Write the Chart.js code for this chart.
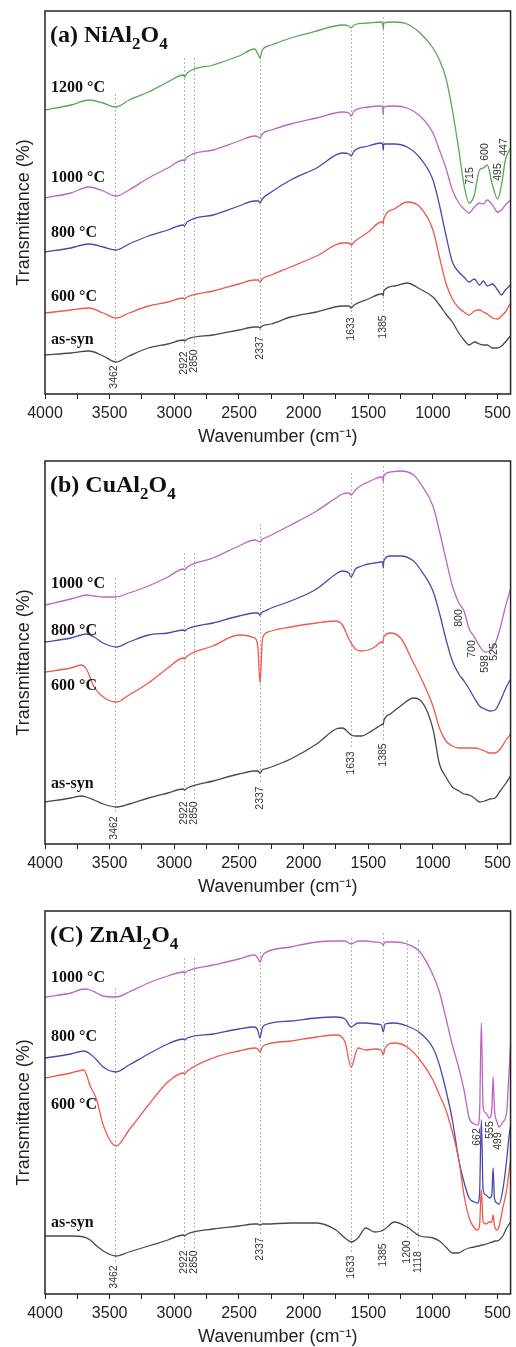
<!DOCTYPE html>
<html>
<head>
<meta charset="utf-8">
<title>FTIR spectra of NiAl2O4, CuAl2O4 and ZnAl2O4</title>
<script src="https://cdn.jsdelivr.net/npm/chart.js@4.4.1/dist/chart.umd.min.js"></script>
<style>
  html, body { margin: 0; padding: 0; background: #fff; overflow: hidden; }
  canvas { display: block; }
</style>
</head>
<body>
<canvas id="panelA" width="516" height="450"></canvas>
<canvas id="panelB" width="516" height="450"></canvas>
<canvas id="panelC" width="516" height="450"></canvas>
<script>
// x axis ticks (cm-1)
const xTicks = [4000, 3500, 3000, 2500, 2000, 1500, 1000, 500];
const xMinorTicks = [3750, 3250, 2750, 2250, 1750, 1250, 750];

// (a) NiAl2O4 - transmittance, arbitrary offset units
const niWavenumbers = [4000, 3800, 3660, 3550, 3450, 3350, 3200, 3050, 2930, 2922, 2900, 2700, 2500, 2380, 2350, 2337, 2320, 2250, 2100, 1900, 1700, 1650, 1633, 1610, 1500, 1400, 1388, 1385, 1380, 1300, 1200, 1100, 1000, 950, 900, 850, 800, 760, 720, 680, 640, 610, 580, 540, 500, 470, 440, 400];
const ni1200 = [71, 72.25, 73.5, 72.75, 71.75, 73.5, 75.5, 78, 79.75, 79.25, 80.25, 82.25, 84.5, 86.25, 84.75, 84, 86, 87.25, 89, 90.75, 92.25, 92, 91.5, 92.25, 92.75, 93, 92.5, 91.25, 92.75, 93, 92.5, 90.25, 86.5, 83.5, 79, 71, 61, 52.25, 47.75, 49.75, 56, 56.5, 57.25, 52.25, 48.75, 52.25, 58.5, 61.5];
const ni1000 = [49, 50.25, 51.75, 50.75, 49.5, 51, 54, 56.5, 58.5, 58.25, 59.25, 61, 63.25, 64.5, 64.25, 64, 65, 66, 67.5, 69, 70.5, 70.25, 69.5, 70.75, 71.75, 72, 71.5, 69.75, 71.75, 72, 71.5, 69.5, 65.25, 61, 56.5, 51, 47.75, 46.25, 45.25, 46.75, 47.75, 47.5, 48.5, 47.25, 45.5, 46, 47.25, 48.5];
const ni800 = [35.5, 36.5, 37.5, 36.75, 36, 37.5, 39.5, 41, 42.25, 42, 43, 44.75, 47, 48.25, 48.25, 47.75, 48.75, 50.5, 53.5, 56.5, 60.25, 60, 59.5, 60.75, 62, 62.75, 62.25, 61, 62.5, 62.5, 61.75, 59, 53.5, 47.25, 39.75, 33, 30.5, 29.25, 28, 28.75, 27.25, 28.25, 27, 27.5, 26, 24.75, 26, 27.25];
const ni600 = [20.25, 21, 21.5, 20.25, 19, 20.25, 22, 23, 24, 23.75, 24.25, 25.75, 27.5, 28.5, 28.5, 28, 28.75, 29.75, 31.75, 34.5, 37.75, 37.75, 37.25, 38, 40.5, 43, 43, 42.5, 43.75, 46.25, 48, 46.75, 41, 34.25, 27.75, 23.75, 21.5, 20.5, 19.75, 20.75, 21, 20.5, 20, 19, 18.75, 19.5, 20.5, 22.75];
const niAsSyn = [9.75, 10.25, 10.75, 9.5, 8, 9.5, 11.5, 12.5, 13.5, 13.25, 13.75, 14.75, 16, 16.75, 16.75, 16.5, 17, 17.5, 19.25, 20.5, 22, 22, 21.5, 22.25, 23.75, 25, 25, 24.5, 25.75, 27, 27.75, 26.25, 24.25, 22.25, 20, 18, 15.25, 13.5, 12.25, 13, 12.5, 12.25, 12.25, 11.5, 11.5, 12, 13, 14.5];
const niBands = [3462, 2922, 2850, 2337, 1633, 1385];
const niPeaks = [715, 600, 495, 447];

// (b) CuAl2O4
const cuWavenumbers = [4000, 3800, 3720, 3680, 3620, 3550, 3450, 3350, 3200, 3050, 2930, 2922, 2900, 2700, 2500, 2380, 2355, 2337, 2320, 2300, 2250, 2100, 1900, 1750, 1700, 1650, 1633, 1600, 1550, 1500, 1450, 1400, 1388, 1385, 1380, 1330, 1250, 1150, 1100, 1000, 950, 900, 850, 800, 760, 720, 680, 640, 600, 560, 520, 480, 440, 400];
const cu1000 = [59.75, 61.25, 62, 62.25, 62, 61.75, 61.75, 62.75, 64.5, 66.75, 68.75, 68.5, 69.25, 71.5, 74.5, 76, 75.75, 75.5, 76.25, 76.5, 77.25, 79.75, 83.25, 86.5, 87.5, 87.75, 87.25, 88.5, 89.75, 90.5, 91.25, 91.75, 91.75, 90.5, 92, 93, 93.25, 92.25, 90.25, 84.5, 78.25, 71.25, 64.5, 60.25, 58.25, 53.75, 51.75, 49.5, 48, 48.25, 50, 54, 59.25, 63.75];
const cu800 = [50.5, 51.5, 52.25, 52.5, 51.75, 50.25, 49.25, 50.5, 52.25, 52.75, 53.5, 53.25, 53.75, 55.25, 57, 57.75, 57.75, 57.25, 58, 58.25, 59, 60.75, 63.75, 67.5, 68.25, 67.75, 66.75, 68.75, 69.5, 70, 70.25, 70.5, 70.5, 69, 70.75, 72, 72, 70.75, 68.75, 63.25, 57.75, 51.25, 45.75, 42.5, 40.75, 38.75, 36.5, 34.5, 33.75, 33.25, 33.5, 35.75, 38.75, 41.25];
const cu600 = [43, 44, 44.75, 43.75, 39.25, 36.75, 35.5, 37.25, 40.25, 44, 46.5, 46.25, 47, 49.5, 52.25, 51.5, 49.5, 40.25, 50.75, 52.5, 53.25, 54.25, 55.25, 55.75, 54.75, 51.25, 50.25, 48.75, 48.25, 48.5, 49.25, 50.5, 50.25, 50.75, 51.75, 52.75, 51.5, 45.25, 42, 34.5, 29, 25.75, 24.5, 24, 24, 24, 24, 23.75, 23.25, 22.75, 22.75, 23.75, 25.75, 27.5];
const cuAsSyn = [10.5, 11.5, 12, 11.75, 11, 10, 9.25, 10, 11.5, 12.75, 13.75, 13.5, 14, 15.75, 17.5, 18.25, 18.25, 17.75, 18.5, 18.75, 19.25, 21.25, 25, 28.75, 29, 27.75, 27.25, 27, 27, 27.75, 28.75, 29.75, 30, 29.75, 30.75, 32.5, 34.5, 36.5, 36, 28.75, 20, 16.75, 14.25, 13.25, 12.5, 12.25, 11.5, 10.5, 10.75, 11.25, 11.5, 13.25, 15, 17];
const cuBands = [3462, 2922, 2850, 2337, 1633, 1385];
const cuPeaks = [800, 700, 598, 525];

// (C) ZnAl2O4
const znWavenumbers = [4000, 3800, 3700, 3650, 3600, 3550, 3450, 3350, 3200, 3050, 2930, 2922, 2900, 2700, 2500, 2380, 2355, 2337, 2320, 2300, 2100, 1900, 1750, 1680, 1633, 1580, 1520, 1450, 1400, 1385, 1370, 1300, 1200, 1100, 1000, 950, 900, 850, 800, 760, 720, 680, 655, 640, 626, 612, 590, 565, 545, 535, 525, 505, 488, 460, 430, 415, 400];
const zn1000 = [74.25, 75.25, 76.25, 76, 75.25, 74.5, 74.25, 75.5, 77.75, 79.5, 80.5, 80.25, 80.75, 82.25, 83.75, 84.75, 84, 83, 84.5, 85.25, 86.75, 88, 88.25, 88.25, 87.5, 88.25, 88.25, 88, 87.75, 87.25, 88, 88, 87.5, 85.5, 79.75, 75.5, 69, 62.25, 56.5, 51, 44, 42.5, 42.25, 44.75, 67.75, 46.5, 45.25, 44, 46, 54.25, 46.5, 43, 41.75, 43, 45.5, 53.5, 62.25];
const zn800 = [59, 60, 60.75, 60, 58.5, 56.75, 55.5, 57.25, 60, 62.5, 63.75, 63.5, 64, 65, 66.25, 66.75, 66, 64, 66.5, 67.25, 68.25, 69, 69.25, 68.75, 66.75, 67.75, 67.75, 67.5, 67.25, 65.5, 67.5, 67.75, 67, 65.25, 61.5, 57.25, 51, 43.5, 33.5, 28, 24, 23, 22.75, 24.75, 43.5, 26, 24.75, 24, 24.75, 31.5, 24, 22.75, 22.5, 26, 33.5, 38.5, 42.25];
const zn600 = [54, 55.25, 56, 52, 48.5, 42.25, 37, 41, 47.25, 53, 55.25, 55, 55.75, 59, 60.75, 61.5, 61.25, 60.5, 61.75, 62.25, 63.25, 64.25, 64.75, 63, 56.75, 61.5, 61, 61.25, 61, 59.75, 61.5, 62.75, 61.75, 58.5, 53.5, 49.75, 46, 40.5, 33.5, 24.75, 19, 16.5, 16, 17, 26, 18, 17.5, 18, 18, 19.75, 17.25, 16, 17, 21.5, 26, 29.75, 33.5];
const znAsSyn = [14.5, 14.5, 14.25, 13.5, 12, 10.75, 9.5, 10.5, 12, 13.5, 14.75, 14.5, 15, 16.25, 17, 17.5, 17.5, 17.25, 17.5, 17.5, 17.75, 17.75, 16, 14, 13, 14, 16.5, 15.5, 15.75, 16, 16.25, 18, 16.75, 14.5, 14, 13.25, 11.75, 10.25, 10.25, 11, 11.5, 11.75, 12, 12, 12.25, 12.25, 12.5, 12.75, 13, 13, 13.25, 13.25, 13.5, 14.5, 16.5, 17.25, 18];
const znBands = [3462, 2922, 2850, 2337, 1633, 1385, 1200, 1118];
const znPeaks = [662, 555, 499];

// ---- styling / layout ----
const SANS = '"Liberation Sans", Arial, Helvetica, sans-serif';
const SERIF = '"Liberation Serif", "Times New Roman", Times, serif';
const COLORS = {
  '1200': '#56a856',
  '1000': '#c064c0',
  '800': '#4848b0',
  '600': '#f0584c',
  'as-syn': '#4a4a4a'
};

function toPoints(xs, ys) {
  return xs.map((w, i) => ({ x: w, y: ys[i] }));
}

function makeDataset(name, xs, ys) {
  return {
    label: name,
    data: toPoints(xs, ys),
    borderColor: COLORS[name],
    borderWidth: 1.3,
    pointRadius: 0,
    fill: false,
    cubicInterpolationMode: 'monotone'
  };
}

const ftirDecor = {
  id: 'ftirDecor',
  beforeDatasetsDraw(chart, args, opts) {
    const { ctx, scales: { x, y } } = chart;
    ctx.save();
    ctx.strokeStyle = '#b4b4b4';
    ctx.lineWidth = 1;
    ctx.setLineDash([2, 2]);
    opts.bands.forEach((w, i) => {
      const [top, lab] = opts.bandPos[i];
      const px = Math.round(x.getPixelForValue(w)) + 0.5;
      ctx.beginPath();
      ctx.moveTo(px, y.getPixelForValue(top));
      ctx.lineTo(px, y.getPixelForValue(lab) - 14);
      ctx.stroke();
    });
    ctx.restore();
  },
  afterDatasetsDraw(chart, args, opts) {
    const { ctx, chartArea: a, scales: { x, y } } = chart;
    ctx.save();
    // frame
    ctx.strokeStyle = '#222';
    ctx.lineWidth = 1.5;
    ctx.strokeRect(a.left, a.top, a.right - a.left, a.bottom - a.top);

    // rotated band labels
    ctx.fillStyle = '#333';
    ctx.font = '10.5px ' + SANS;
    ctx.textAlign = 'center';
    ctx.textBaseline = 'middle';
    const vtext = (w, v) => {
      ctx.save();
      ctx.translate(x.getPixelForValue(w), y.getPixelForValue(v));
      ctx.rotate(-Math.PI / 2);
      ctx.fillText(String(w), 0, 0);
      ctx.restore();
    };
    opts.bands.forEach((w, i) => vtext(w, opts.bandPos[i][1]));
    opts.peaks.forEach((w, i) => vtext(w, opts.peakPos[i]));

    // curve labels
    ctx.fillStyle = '#111';
    ctx.textAlign = 'left';
    ctx.font = 'bold 16px ' + SERIF;
    opts.curveLabels.forEach(([t, v]) => ctx.fillText(t, a.left + 6, y.getPixelForValue(v)));

    // panel title with subscripts
    let cx = a.left + 5;
    const base = a.top + 31;
    ctx.textBaseline = 'alphabetic';
    opts.title.forEach((part, i) => {
      const sub = i % 2 === 1;
      ctx.font = 'bold ' + (sub ? 17 : 24) + 'px ' + SERIF;
      ctx.fillText(part, cx, base + (sub ? 7 : 0));
      cx += ctx.measureText(part).width;
    });

    // y axis title
    ctx.fillStyle = '#222';
    ctx.font = '18px ' + SANS;
    ctx.textAlign = 'center';
    ctx.textBaseline = 'middle';
    ctx.translate(24, (a.top + a.bottom) / 2 + 10);
    ctx.rotate(-Math.PI / 2);
    ctx.fillText('Transmittance (%)', 0, 0);
    ctx.restore();
  }
};

function makePanel(id, datasets, decor) {
  return new Chart(document.getElementById(id), {
    type: 'line',
    data: { datasets: datasets },
    options: {
      responsive: false,
      animation: false,
      events: [],
      layout: { padding: { left: 45, right: 1, top: 11, bottom: 0 } },
      plugins: {
        legend: { display: false },
        tooltip: { enabled: false },
        ftirDecor: decor
      },
      scales: {
        x: {
          type: 'linear',
          reverse: true,
          min: 400,
          max: 4000,
          afterBuildTicks: s => {
            s.ticks = xTicks.concat(xMinorTicks).sort((p, q) => q - p).map(v => ({ value: v }));
          },
          afterFit: s => { s.height = 56; },
          ticks: {
            autoSkip: false,
            maxRotation: 0,
            padding: 5,
            color: '#222',
            font: { size: 16, family: SANS },
            callback: v => xTicks.includes(v) ? String(v) : ''
          },
          grid: { drawOnChartArea: false, drawTicks: true, tickLength: 5, color: '#222', lineWidth: 1 },
          border: { display: false },
          title: {
            display: true,
            text: 'Wavenumber (cm\u207B\u00B9)',
            color: '#222',
            font: { size: 18, family: SANS },
            padding: { top: 0, bottom: 2 }
          }
        },
        y: { display: false, min: 0, max: 95.75 }
      }
    },
    plugins: [ftirDecor]
  });
}

makePanel('panelA', [
  makeDataset('as-syn', niWavenumbers, niAsSyn),
  makeDataset('600', niWavenumbers, ni600),
  makeDataset('800', niWavenumbers, ni800),
  makeDataset('1000', niWavenumbers, ni1000),
  makeDataset('1200', niWavenumbers, ni1200)
], {
  title: ['(a) NiAl', '2', 'O', '4'],
  bands: niBands,
  bandPos: [[75, 4.25], [84, 7.75], [84, 8.25], [84.25, 11.5], [91, 16.25], [94.25, 16.75]],
  peaks: niPeaks,
  peakPos: [54.5, 60.5, 55.5, 61.75],
  curveLabels: [['1200 \u00B0C', 76.5], ['1000 \u00B0C', 54], ['800 \u00B0C', 40.25], ['600 \u00B0C', 24.25], ['as-syn', 13.5]]
});

makePanel('panelB', [
  makeDataset('as-syn', cuWavenumbers, cuAsSyn),
  makeDataset('600', cuWavenumbers, cu600),
  makeDataset('800', cuWavenumbers, cu800),
  makeDataset('1000', cuWavenumbers, cu1000)
], {
  title: ['(b) CuAl', '2', 'O', '4'],
  bands: cuBands,
  bandPos: [[66.5, 4], [72.75, 7.75], [72.75, 7.75], [80, 11.5], [92.75, 20.25], [94.5, 22.25]],
  peaks: cuPeaks,
  peakPos: [56.5, 48.75, 45, 48],
  curveLabels: [['1000 \u00B0C', 65], ['800 \u00B0C', 53.25], ['600 \u00B0C', 39.5], ['as-syn', 15]]
});

makePanel('panelC', [
  makeDataset('as-syn', znWavenumbers, znAsSyn),
  makeDataset('600', znWavenumbers, zn600),
  makeDataset('800', znWavenumbers, zn800),
  makeDataset('1000', znWavenumbers, zn1000)
], {
  title: ['(C) ZnAl', '2', 'O', '4'],
  bands: znBands,
  bandPos: [[76.5, 4.25], [84, 8], [84, 8], [85.5, 11.25], [89, 6.75], [90.25, 9.75], [88.5, 10.5], [88.5, 8]],
  peaks: znPeaks,
  peakPos: [39.25, 41, 38.25],
  curveLabels: [['1000 \u00B0C', 79], ['800 \u00B0C', 64.25], ['600 \u00B0C', 47.25], ['as-syn', 17.75]]
});
</script>
</body>
</html>
